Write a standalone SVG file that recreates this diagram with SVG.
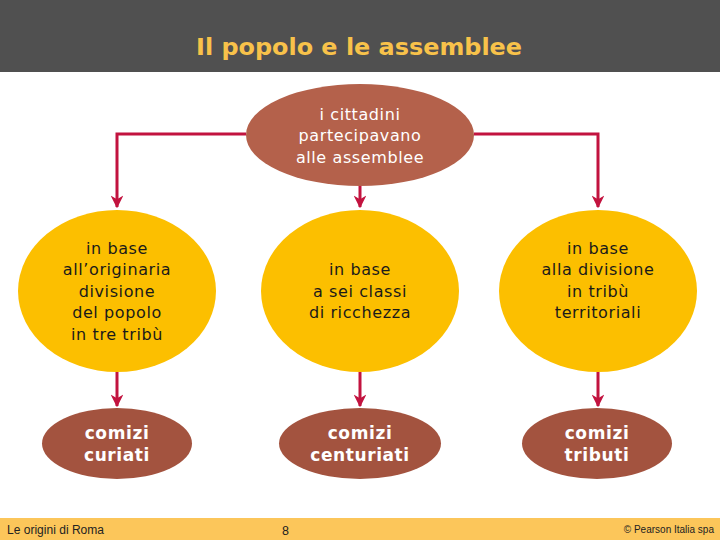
<svg xmlns="http://www.w3.org/2000/svg" width="720" height="540" viewBox="0 0 720 540">
<style>
.t{font-family:"DejaVu Sans",Verdana,sans-serif;font-size:16px;letter-spacing:0.6px;text-anchor:middle}
.dk{fill:#1a1a1a}
.wh{fill:#ffffff}
.bt{font-family:"DejaVu Sans","Liberation Sans",sans-serif;font-size:17px;font-weight:bold;letter-spacing:0.6px;text-anchor:middle;fill:#ffffff}
.c{fill:none;stroke:#C2133F;stroke-width:3}
.y{fill:#FCBF00}
.b{fill:#A3533F}
.ft{font-family:"Liberation Sans",Arial,sans-serif;fill:#222}
</style>
<defs>
<marker id="ah" viewBox="0 0 10 10" refX="9" refY="5" markerWidth="4.3" markerHeight="4.3" orient="auto" markerUnits="strokeWidth">
<path d="M0,0 L10,5 L0,10 L3,5 z" fill="#C2133F"/>
</marker>
</defs>
<rect x="0" y="0" width="720" height="540" fill="#ffffff"/>
<rect x="0" y="0" width="720" height="72" fill="#505050"/>
<text x="359" y="55" font-family="DejaVu Sans,Verdana,sans-serif" font-weight="bold" font-size="23" fill="#F8C24A" text-anchor="middle" textLength="326" lengthAdjust="spacingAndGlyphs">Il popolo e le assemblee</text>
<g id="connectors">
<polyline class="c" points="246,134 117,134 117,207" marker-end="url(#ah)"/>
<polyline class="c" points="474,134 598,134 598,207" marker-end="url(#ah)"/>
<line class="c" x1="360" y1="186" x2="360" y2="207" marker-end="url(#ah)"/>
<line class="c" x1="117" y1="372" x2="117" y2="406" marker-end="url(#ah)"/>
<line class="c" x1="360" y1="372" x2="360" y2="406" marker-end="url(#ah)"/>
<line class="c" x1="598" y1="372" x2="598" y2="406" marker-end="url(#ah)"/>
</g>
<g id="top">
<ellipse cx="360" cy="135" rx="114" ry="51" fill="#B4614B"/>
<text class="t wh" x="360" y="120">i cittadini</text>
<text class="t wh" x="360" y="141">partecipavano</text>
<text class="t wh" x="360" y="163">alle assemblee</text>
</g>
<g id="left">
<ellipse class="y" cx="117" cy="291" rx="99" ry="81"/>
<text class="t dk" x="117" y="254">in base</text>
<text class="t dk" x="117" y="275">all’originaria</text>
<text class="t dk" x="117" y="297">divisione</text>
<text class="t dk" x="117" y="318">del popolo</text>
<text class="t dk" x="117" y="340">in tre tribù</text>
</g>
<g id="middle">
<ellipse class="y" cx="360" cy="291" rx="99" ry="81"/>
<text class="t dk" x="360" y="275">in base</text>
<text class="t dk" x="360" y="297">a sei classi</text>
<text class="t dk" x="360" y="318">di ricchezza</text>
</g>
<g id="right">
<ellipse class="y" cx="598" cy="291" rx="99" ry="81"/>
<text class="t dk" x="598" y="254">in base</text>
<text class="t dk" x="598" y="275">alla divisione</text>
<text class="t dk" x="598" y="297">in tribù</text>
<text class="t dk" x="598" y="318">territoriali</text>
</g>
<g id="curiati">
<ellipse class="b" cx="117" cy="443.5" rx="75" ry="35.5"/>
<text class="bt" x="117" y="439">comizi</text>
<text class="bt" x="117" y="461">curiati</text>
</g>
<g id="centuriati">
<ellipse class="b" cx="360" cy="443.5" rx="81" ry="35.5"/>
<text class="bt" x="360" y="439">comizi</text>
<text class="bt" x="360" y="461">centuriati</text>
</g>
<g id="tributi">
<ellipse class="b" cx="597" cy="443.5" rx="75" ry="35.5"/>
<text class="bt" x="597" y="439">comizi</text>
<text class="bt" x="597" y="461">tributi</text>
</g>
<rect x="0" y="518" width="720" height="22" fill="#FCC65A"/>
<text class="ft" x="7" y="534" font-size="12.5" textLength="97" lengthAdjust="spacingAndGlyphs">Le origini di Roma</text>
<text class="ft" x="282" y="535" font-size="12.5">8</text>
<text class="ft" x="714" y="533" font-size="10" text-anchor="end">© Pearson Italia spa</text>
</svg>
